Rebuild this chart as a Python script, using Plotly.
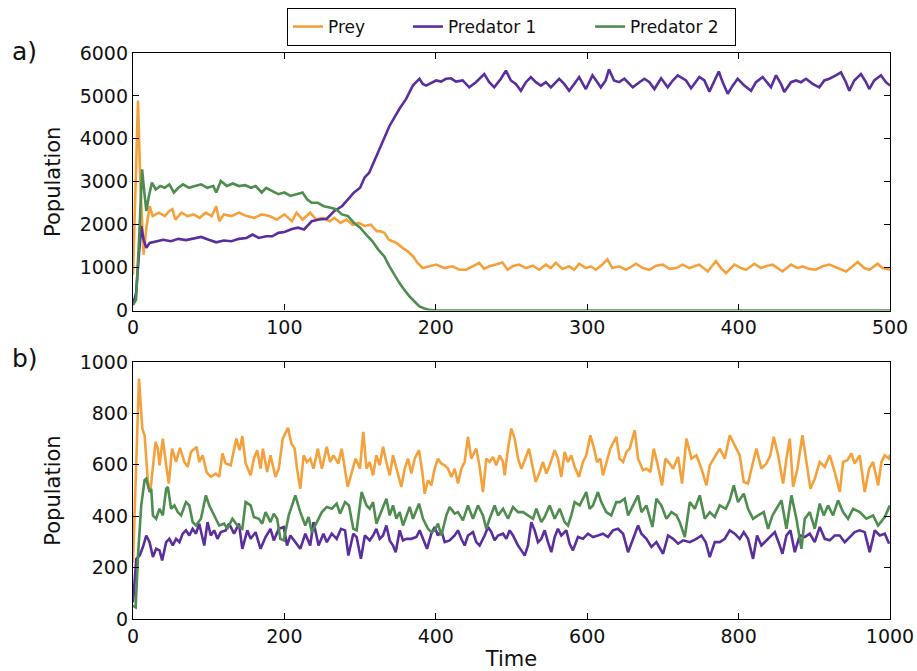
import plotly.graph_objects as go

# ---- panel a) : 0..500 time units, (time, population) ----
prey_a = [(0, 835), (3.3, 4890), (5, 2820), (7, 1300), (9, 1970), (11, 2430), (13, 2200), (17, 2280), (21, 2200),
          (24, 2320), (26, 2360), (28, 2120), (32, 2280), (36, 2200), (40, 2240), (44, 2160), (48, 2280), (52, 2200),
          (55, 2430), (57, 2080), (60, 2240), (65, 2200), (70, 2280), (75, 2200), (80, 2160), (85, 2240), (90, 2200),
          (95, 2120), (100, 2240), (105, 2080), (108, 2280), (112, 2120), (117, 2280), (121, 2120), (125, 2160),
          (130, 2080), (133, 2160), (137, 2040), (141, 2120), (145, 2000), (149, 2040), (153, 1970), (157, 2000),
          (161, 1850), (163, 1850), (166, 1810), (169, 1650), (174, 1575), (178, 1460), (181.5, 1380), (185, 1260),
          (188, 1110), (191.4, 990), (195.8, 1030), (200.2, 1070), (205.7, 990), (211, 1030), (215.5, 950), (220, 950),
          (224.3, 1030), (228.7, 1110), (232, 970), (235.3, 1030), (239.7, 1070), (244, 1120), (247.4, 950),
          (250.7, 1030), (255, 1070), (259.5, 990), (264, 1045), (268.3, 950), (272.7, 1070), (276, 990), (279.3, 1110),
          (283.7, 970), (288, 1030), (291.4, 950), (294.7, 1090), (299, 990), (302.4, 1030), (305.7, 950), (310, 1070),
          (313.3, 1190), (316.6, 990), (321, 1030), (325.7, 950), (329, 1030), (332.3, 1090), (336.7, 990), (341, 950),
          (345.5, 1045), (350, 1070), (354.3, 970), (358.7, 990), (363, 1070), (367.5, 990), (374, 1070), (379.6, 910),
          (385, 1150), (388.4, 990), (391.7, 870), (397.2, 1070), (401.6, 990), (405, 950), (410.4, 1090), (414.8, 990),
          (418, 1030), (422.5, 1070), (429, 910), (434.6, 1070), (439, 990), (442.3, 1030), (446.7, 970), (451, 950),
          (455.5, 1030), (460, 1070), (465.4, 990), (471, 910), (475.3, 1030), (478.6, 1130), (483, 990), (486.3, 950),
          (491.8, 1090), (495, 990), (500, 950)]

pred1_a = [(0, 130), (2, 405), (4, 1340), (5.5, 1970), (7, 1650), (8.8, 1460), (11, 1575), (15, 1615), (20, 1650),
           (25, 1615), (30, 1670), (35, 1640), (40, 1670), (45, 1715), (50, 1650), (55, 1590), (60, 1630), (65, 1615),
           (70, 1670), (75, 1690), (79, 1770), (83, 1690), (88, 1730), (92, 1730), (96, 1810), (100, 1830), (105, 1900),
           (109, 1930), (113, 1890), (118, 2080), (123, 2120), (128, 2140), (133, 2320), (138, 2430), (142, 2590),
           (146, 2750), (150, 2860), (153, 3100), (156, 3210), (162.8, 3760), (166, 3990), (169.4, 4300), (172.7, 4500),
           (176, 4700), (180.4, 4930), (184.8, 5240), (187, 5320), (189.2, 5400), (191.4, 5280), (193.6, 5240),
           (195.8, 5280), (198, 5320), (200.2, 5360), (203.5, 5335), (206.7, 5400), (210, 5410), (213.3, 5335),
           (217.7, 5360), (222.1, 5200), (226.5, 5320), (232, 5510), (235.3, 5320), (238.6, 5200), (243, 5400),
           (246.3, 5590), (249.6, 5360), (252.9, 5280), (256.2, 5120), (259.5, 5320), (262.8, 5440), (266.1, 5320),
           (269.4, 5240), (272.7, 5320), (276, 5200), (281.5, 5400), (284.8, 5280), (288.1, 5120), (291.4, 5280),
           (294.7, 5440), (299.1, 5160), (303.5, 5480), (306.7, 5320), (309, 5200), (312.2, 5360), (314.4, 5620),
           (317.7, 5360), (321, 5320), (324.6, 5400), (330.1, 5200), (334.5, 5320), (337.8, 5400), (341.1, 5320),
           (344.4, 5160), (348.8, 5410), (353.2, 5200), (356.5, 5360), (359.8, 5480), (365.3, 5360), (368.6, 5180),
           (374.1, 5440), (377.4, 5360), (380.7, 5100), (384, 5360), (386.9, 5570), (389.5, 5320), (392.8, 5050),
           (396.1, 5240), (399.4, 5400), (403.8, 5240), (408.2, 5120), (411.5, 5320), (415.9, 5440), (421.4, 5200),
           (424.7, 5480), (428, 5280), (430.2, 5090), (434.6, 5320), (437.9, 5360), (441.2, 5320), (444.5, 5400),
           (448.9, 5280), (453.3, 5200), (456.6, 5360), (459.9, 5400), (464.3, 5480), (467.6, 5550), (470.9, 5320),
           (473.1, 5120), (476.4, 5360), (480.8, 5510), (484.1, 5320), (486.3, 5160), (489.6, 5360), (494, 5480),
           (497.3, 5320), (500, 5240)]

pred2_a = [(0, 130), (2, 250), (4, 1650), (6, 3290), (7.5, 2750), (8.8, 2320), (10.5, 2670), (12.5, 2980), (15, 2820),
           (18, 2900), (21, 2860), (24, 2940), (27, 2750), (30, 2860), (33, 2940), (37, 2860), (41, 2900), (45, 2940),
           (49, 2860), (53, 2900), (55, 2750), (58, 3020), (62, 2900), (66, 2960), (70, 2900), (74, 2920), (78, 2860),
           (81, 2900), (85, 2750), (88, 2860), (92, 2780), (96, 2710), (100, 2750), (104, 2670), (108, 2710),
           (112, 2750), (115, 2590), (118, 2510), (122, 2510), (126, 2430), (130, 2400), (134, 2360), (138, 2240),
           (142, 2200), (146, 2040), (150, 1930), (154, 1770), (158, 1620), (162, 1420), (166, 1260), (169.4, 1030),
           (172.7, 835), (176, 640), (179.3, 480), (182.6, 330), (185.9, 210), (189.2, 94), (192.5, 47), (195.8, 15),
           (200, 0), (500, 0)]

# ---- panel b) : 0..1000 time units ----
prey_b = [(0, 220), (7.9, 936), (12.3, 741), (15.3, 715), (19.7, 533), (22.8, 494), (29.8, 689), (32.8, 663), (35, 598),
          (39.4, 702), (43.8, 598), (47.3, 527), (51.6, 663), (56.9, 611), (62.1, 666), (67.8, 611), (72.2, 592),
          (76.6, 650), (84, 670), (87.5, 611), (91.9, 637), (97.2, 572), (102.8, 553), (109.4, 566), (113.8, 553),
          (118.2, 644), (122.5, 605), (129.1, 598), (136.5, 702), (140.9, 657), (144.4, 712), (148.8, 605),
          (155.4, 559), (159.7, 624), (164.1, 657), (168.5, 585), (171.6, 663), (177.2, 572), (181.6, 637),
          (188.2, 553), (192.6, 585), (197.8, 702), (204.8, 744), (209.2, 683), (213.6, 663), (216.6, 585), (221, 507),
          (225.4, 637), (229.8, 611), (234.1, 624), (238.5, 585), (244.2, 663), (249.5, 585), (256, 670), (260.4, 611),
          (264.8, 637), (271.3, 605), (275.7, 663), (283.6, 514), (288.8, 572), (294.1, 624), (299.8, 585),
          (304.2, 728), (308.5, 585), (312.7, 611), (317.1, 559), (321.5, 637), (325.9, 598), (330.3, 670),
          (334.7, 611), (339.1, 559), (343.5, 637), (347.9, 585), (354.5, 514), (358.9, 585), (363.3, 624),
          (367.7, 566), (372.1, 624), (377.8, 657), (382.2, 572), (385.3, 488), (389.7, 540), (394.1, 520),
          (398.5, 585), (402.9, 624), (407.3, 605), (411.7, 598), (416.1, 585), (420.5, 553), (424.9, 585),
          (429.3, 527), (433.7, 585), (438.1, 611), (442.5, 709), (446.9, 624), (453.5, 663), (457.9, 592),
          (462.3, 494), (466.7, 624), (471.1, 611), (475.5, 631), (479.9, 598), (484.4, 637), (488.8, 611), (491, 559),
          (495.4, 663), (499.8, 741), (504.2, 702), (508.6, 624), (513, 585), (517.4, 618), (523.1, 663), (527.5, 598),
          (531.9, 533), (537.2, 572), (541.6, 611), (546, 566), (550.4, 598), (557, 657), (561.4, 624), (565.8, 553),
          (570.2, 650), (574.6, 611), (579, 637), (583.4, 592), (589.1, 553), (594.4, 611), (598.8, 637), (604.1, 715),
          (608.5, 670), (612.9, 611), (617.3, 624), (620.8, 559), (626.1, 611), (630.5, 663), (638.4, 709),
          (642.8, 624), (647.4, 611), (651.8, 650), (656.2, 663), (662.8, 735), (667.2, 624), (673.8, 579),
          (678.2, 585), (683.5, 572), (687.9, 663), (692.3, 611), (698.9, 520), (703.3, 624), (709, 605), (713.5, 585),
          (720.1, 631), (725.3, 527), (731.1, 702), (737.7, 624), (744.3, 637), (750.9, 585), (757.5, 520),
          (761.9, 598), (768.5, 631), (775.1, 663), (781.7, 624), (788.3, 715), (794.9, 676), (801.5, 637),
          (806.8, 533), (812.5, 527), (819.1, 611), (823.5, 663), (830.1, 585), (836.7, 605), (842, 637), (846.4, 709),
          (852.2, 637), (858.8, 527), (863.2, 624), (867.6, 702), (872, 514), (877.7, 585), (884.3, 715), (889.6, 611),
          (894.9, 507), (900.6, 546), (907.2, 611), (913.8, 592), (920.4, 637), (927, 572), (933.6, 494), (938, 611),
          (943.7, 618), (949, 644), (953.4, 605), (960, 637), (966.6, 494), (972.4, 585), (977.7, 611), (984.3, 520),
          (988.7, 611), (993.1, 637), (998.8, 624), (1000, 640)]

pred1_b = [(0, 65), (4.4, 234), (8.8, 247), (13.1, 280), (17.5, 325), (21.9, 299), (26.3, 241), (30.6, 273), (35, 267),
           (38.5, 228), (43.8, 299), (48.1, 312), (52.5, 286), (56.9, 312), (61.3, 299), (65.6, 332), (70, 345),
           (74.4, 325), (78.8, 351), (83.2, 332), (87.5, 371), (94.1, 286), (98.5, 377), (102.8, 325), (107.2, 345),
           (111.6, 312), (116, 338), (122.5, 345), (126.9, 371), (133.5, 332), (140, 371), (144.4, 273), (151, 345),
           (155.4, 312), (161.9, 338), (168.5, 273), (175.1, 319), (181.6, 351), (186, 306), (192.6, 351), (199.1, 358),
           (203.5, 286), (207.9, 325), (212.3, 306), (221, 273), (227.6, 332), (234.1, 286), (238.5, 377), (245.1, 286),
           (251.6, 332), (256, 299), (262.6, 332), (269.1, 312), (274.8, 351), (280.1, 345), (284.5, 247), (291, 332),
           (295.4, 319), (301.1, 234), (306.3, 325), (312.7, 306), (317.1, 325), (321.5, 351), (325.9, 312),
           (330.3, 325), (334.7, 364), (339.1, 306), (343.5, 286), (347, 260), (352.3, 345), (356.7, 306), (361.1, 312),
           (367.7, 312), (374.3, 319), (378.7, 345), (383.1, 312), (388.4, 273), (394.1, 332), (398.5, 358),
           (402.9, 325), (407.3, 345), (411.7, 299), (418.3, 306), (424.9, 325), (429.3, 345), (433.7, 312),
           (438.1, 286), (442.5, 325), (449.1, 338), (453.5, 299), (457.9, 286), (464.5, 325), (469, 358), (473.4, 338),
           (477.7, 306), (482.2, 325), (488.8, 332), (493.2, 312), (497.6, 345), (502, 325), (508.6, 286), (513, 267),
           (517.4, 247), (521.8, 286), (526.2, 377), (530.6, 345), (535, 299), (539.4, 312), (543.8, 345), (548.2, 299),
           (552.6, 260), (557, 319), (561.4, 351), (565.8, 325), (572.4, 345), (576.8, 293), (581.2, 267), (587.8, 319),
           (594.4, 312), (601, 332), (607.6, 319), (614.2, 325), (620.8, 332), (627.4, 319), (634, 345), (640.6, 351),
           (647.4, 332), (654, 260), (660.6, 312), (667.2, 364), (671.6, 332), (678.2, 312), (684.8, 280), (691.4, 299),
           (700.2, 254), (706.8, 325), (713.5, 312), (720.1, 293), (726.7, 306), (735.5, 299), (744.3, 312),
           (750.9, 325), (756.6, 299), (761.9, 241), (768.5, 299), (775.1, 299), (781.7, 312), (788.3, 345),
           (794.9, 332), (801.5, 312), (806.8, 338), (812.5, 312), (819.1, 234), (824.4, 325), (830.1, 286),
           (836.7, 306), (842, 319), (847.8, 338), (853.5, 293), (857.9, 254), (863.2, 325), (868.5, 345), (874.2, 260),
           (880.8, 325), (887.4, 319), (894, 332), (900.6, 299), (907.2, 358), (913.8, 312), (920.4, 306), (927, 325),
           (933.6, 325), (940.2, 299), (946.8, 319), (953.4, 338), (960, 345), (966.6, 338), (973.2, 260), (979.9, 345),
           (986.5, 325), (993.1, 332), (998.8, 293)]

pred2_b = [(0, 52), (3.5, 46), (6.6, 247), (10.9, 442), (15.3, 540), (17.5, 546), (21.9, 494), (24.1, 507), (26.3, 403),
           (30.6, 390), (35, 429), (39.4, 403), (43.8, 507), (46, 514), (50.3, 429), (54.7, 442), (59.1, 416),
           (63.5, 403), (70, 455), (74.4, 442), (78.8, 377), (83.2, 364), (89.7, 390), (96.3, 481), (100.7, 442),
           (107.2, 403), (113.8, 364), (120.4, 371), (124.7, 351), (131.3, 390), (137.9, 364), (144.4, 351),
           (148.8, 455), (155.4, 442), (159.7, 397), (166.3, 390), (170.7, 371), (175.1, 416), (181.6, 377), (186, 410),
           (190.4, 390), (194.7, 312), (199.1, 306), (205.7, 403), (214.4, 481), (221, 416), (227.6, 364), (231.9, 397),
           (236.3, 338), (242.9, 377), (249.5, 416), (256, 436), (262.6, 429), (269.1, 449), (273.5, 410), (280.1, 455),
           (285.3, 442), (291, 351), (295.4, 345), (302, 494), (308.5, 442), (312.7, 429), (317.1, 455), (321.5, 371),
           (325.9, 403), (330.3, 442), (334.7, 468), (339.1, 403), (343.5, 442), (347.9, 390), (352.3, 416),
           (356.7, 364), (361.1, 403), (365.5, 436), (369.9, 390), (377.8, 449), (383.1, 390), (389.7, 351),
           (394.1, 338), (398.5, 345), (402.9, 371), (407.3, 325), (413.9, 403), (418.3, 436), (424.9, 410),
           (429.3, 416), (435.9, 384), (442.5, 442), (449.1, 390), (455.7, 442), (462.3, 403), (466.7, 351),
           (471.1, 390), (477.7, 442), (482.2, 403), (488.8, 429), (495.4, 390), (502, 436), (508.6, 416), (515.2, 416),
           (521.8, 403), (528.4, 390), (532.8, 429), (539.4, 377), (543.8, 397), (550.4, 442), (557, 390), (563.6, 429),
           (570.2, 377), (574.6, 364), (579, 403), (583.4, 455), (590, 442), (598.8, 494), (603.2, 429), (607.6, 442),
           (614.2, 494), (618.6, 455), (625.2, 416), (631.8, 403), (638.4, 455), (643, 455), (649.6, 468), (654, 403),
           (660.6, 442), (667.2, 481), (671.6, 416), (678.2, 442), (686.2, 358), (691.4, 468), (698, 442), (704.6, 390),
           (711.3, 416), (717.9, 403), (722.3, 377), (728.9, 319), (735.5, 455), (742.1, 429), (748.7, 481),
           (755.3, 390), (761.9, 416), (768.5, 397), (775.1, 442), (783, 429), (788.3, 462), (793.6, 520), (799.3, 455),
           (806.8, 488), (812.5, 429), (819.1, 390), (825.7, 403), (833.2, 416), (839, 351), (844.7, 403), (850, 429),
           (856.6, 462), (863.2, 351), (869.8, 481), (876.4, 390), (883, 273), (887.4, 390), (894, 416), (900.6, 351),
           (907.2, 449), (912.5, 403), (918.2, 442), (924.8, 403), (931.4, 462), (938, 416), (944.6, 390), (951.2, 429),
           (960, 416), (968.8, 390), (977.7, 403), (984.3, 364), (993.1, 397), (999.7, 442)]

series_names = ["Prey", "Predator 1", "Predator 2"]
series_colors = ["#F4A13B", "#5A2E9C", "#4E8C4F"]
xticks_a = [0, 100, 200, 300, 400, 500]
yticks_a = [0, 1000, 2000, 3000, 4000, 5000, 6000]
xticks_b = [0, 200, 400, 600, 800, 1000]
yticks_b = [0, 200, 400, 600, 800, 1000]

FONT = "DejaVu Sans"
NBSP = "\u00a0"
# trailing non-breaking spaces widen the gap between horizontal legend entries
legend_pad = [NBSP * 7, NBSP * 9, NBSP * 2]

fig = go.Figure()

for pts, name, col, pad in zip([prey_a, pred1_a, pred2_a], series_names, series_colors, legend_pad):
    fig.add_trace(go.Scatter(x=[p[0] for p in pts], y=[p[1] for p in pts], mode="lines", name=name + pad,
                             line=dict(color=col, width=2.6), xaxis="x", yaxis="y", showlegend=True))

for pts, name, col in zip([prey_b, pred1_b, pred2_b], series_names, series_colors):
    fig.add_trace(go.Scatter(x=[p[0] for p in pts], y=[p[1] for p in pts], mode="lines", name=name,
                             line=dict(color=col, width=2.6), xaxis="x2", yaxis="y2", showlegend=False))

axis_common = dict(showline=True, linecolor="black", linewidth=1.3, mirror="ticks", ticks="inside",
                   ticklen=6, tickwidth=1, tickcolor="black", showgrid=False, zeroline=False,
                   tickfont=dict(family=FONT, size=19, color="#111"))

fig.update_layout(
    width=917, height=671,
    margin=dict(l=133, r=27, t=53, b=52, autoexpand=False),
    plot_bgcolor="white", paper_bgcolor="white",
    font=dict(family=FONT, color="#111"),
    xaxis=dict(domain=[0, 1], range=[0, 500], tickvals=xticks_a, anchor="y", **axis_common),
    yaxis=dict(domain=[0.545, 1], range=[0, 6000], tickvals=yticks_a, anchor="x",
               title=dict(text="Population", font=dict(family=FONT, size=21), standoff=13), **axis_common),
    xaxis2=dict(domain=[0, 1], range=[0, 1000], tickvals=xticks_b, anchor="y2",
                title=dict(text="Time", font=dict(family=FONT, size=21), standoff=8), **axis_common),
    yaxis2=dict(domain=[0, 0.454], range=[0, 1000], tickvals=yticks_b, anchor="x2",
                title=dict(text="Population", font=dict(family=FONT, size=21), standoff=13), **axis_common),
    legend=dict(orientation="h", x=0.5, xanchor="center", y=1.0795, yanchor="top",
                bordercolor="black", borderwidth=1, bgcolor="white",
                font=dict(family=FONT, size=17), itemwidth=30),
    annotations=[
        dict(text="a)", x=-0.162, y=1.003, xref="paper", yref="paper", showarrow=False,
             font=dict(family=FONT, size=25, color="#111"), xanchor="left", yanchor="middle"),
        dict(text="b)", x=-0.162, y=0.46, xref="paper", yref="paper", showarrow=False,
             font=dict(family=FONT, size=25, color="#111"), xanchor="left", yanchor="middle"),
    ],
)

fig.write_html("out.html")
